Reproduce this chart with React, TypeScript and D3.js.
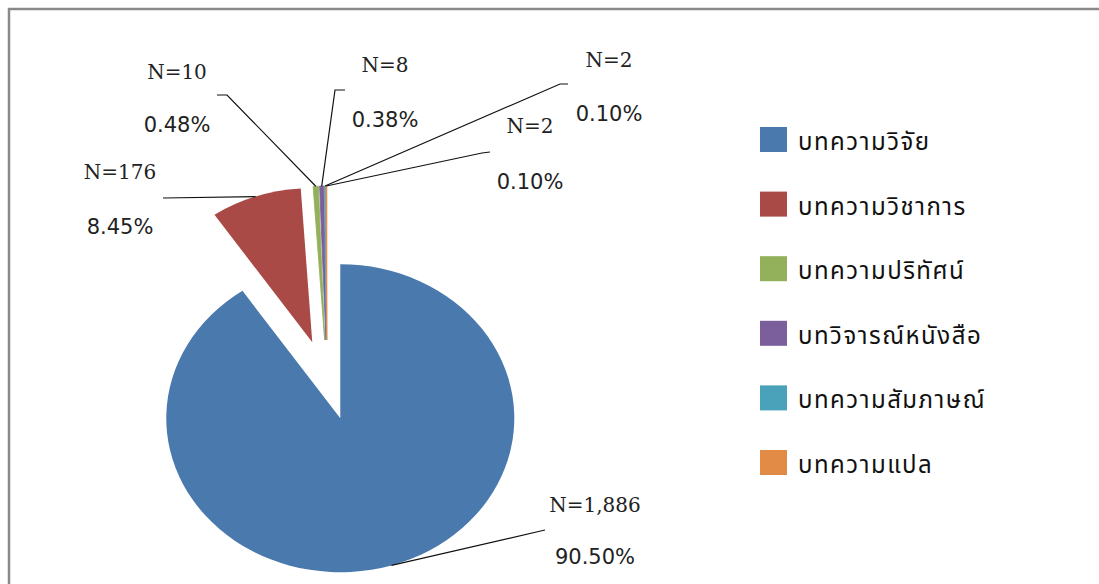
import React, { useEffect, useRef } from "react"
import * as d3 from "d3"

const categories = [
    "บทความวิจัย",
    "บทความวิชาการ",
    "บทความปริทัศน์",
    "บทวิจารณ์หนังสือ",
    "บทความสัมภาษณ์",
    "บทความแปล",
]
const counts = [1886, 176, 10, 8, 2, 2]
const colors = ["#4a79ad", "#aa4a47", "#93b05a", "#7b5f9d", "#4aa2ba", "#e28b47"]

// label placement: [elbow x, elbow y, end x, end y, label x, N label y, pct label y]
const labelLayout = [
    [545, 530, 545, 530, 595, 505, 557],
    [163, 198, 163, 198, 120, 172, 227],
    [227, 95, 217, 95, 177, 72, 125],
    [335, 90, 345, 90, 385, 65, 120],
    [560, 84, 568, 84, 609, 60, 114],
    [482, 153, 490, 152, 530, 126, 182],
]

export default function App() {
    const ref = useRef<SVGSVGElement>(null)

    useEffect(() => {
        const svg = d3.select(ref.current)
        svg.selectAll("*").remove()

        const width = 1099
        const height = 584
        const cx = 327
        const cy = 380
        const radius = 154
        const stretch = 1.13
        const explode = 40
        const total = d3.sum(counts)

        svg.attr("width", width).attr("height", height)

        svg.append("rect")
            .attr("x", 9)
            .attr("y", 9)
            .attr("width", 1300)
            .attr("height", 800)
            .attr("fill", "white")
            .attr("stroke", "#8a8a8a")
            .attr("stroke-width", 2.5)

        const pie = d3.pie<number>().sort(null).value(d => d)
        const arcs = pie(counts)
        const arc = d3.arc<d3.PieArcDatum<number>>().innerRadius(0).outerRadius(radius)

        const pieG = svg.append("g")
            .attr("transform", `translate(${cx},${cy}) scale(${stretch},1)`)

        pieG.selectAll("path")
            .data(arcs)
            .enter()
            .append("path")
            .attr("d", d => arc(d))
            .attr("fill", (d, i) => colors[i])
            .attr("stroke", (d, i) => (i > 1 ? colors[i] : "none"))
            .attr("stroke-width", 0.8)
            .attr("transform", d => {
                const mid = (d.startAngle + d.endAngle) / 2
                return `translate(${Math.sin(mid) * explode},${-Math.cos(mid) * explode})`
            })

        // leader lines start at the outer edge of each exploded slice
        const outer = (d: d3.PieArcDatum<number>) => {
            const mid = (d.startAngle + d.endAngle) / 2
            const r = radius + explode
            return [cx + Math.sin(mid) * r * stretch, cy - Math.cos(mid) * r]
        }

        const line = d3.line()
        svg.append("g")
            .selectAll("path")
            .data(arcs)
            .enter()
            .append("path")
            .attr("d", (d, i) => {
                const l = labelLayout[i]
                return line([outer(d) as [number, number], [l[0], l[1]], [l[2], l[3]]])
            })
            .attr("fill", "none")
            .attr("stroke", "#111")
            .attr("stroke-width", 1.2)

        const fmtN = d3.format(",")
        const fmtP = d3.format(".2%")

        const labels = svg.append("g")
        arcs.forEach((d, i) => {
            const l = labelLayout[i]
            labels.append("text")
                .attr("x", l[4])
                .attr("y", l[5])
                .attr("text-anchor", "middle")
                .attr("dominant-baseline", "central")
                .attr("font-family", "DejaVu Serif")
                .attr("font-size", 20)
                .attr("fill", "#222")
                .text("N=" + fmtN(counts[i]))
            labels.append("text")
                .attr("x", l[4])
                .attr("y", l[6])
                .attr("text-anchor", "middle")
                .attr("dominant-baseline", "central")
                .attr("font-family", "DejaVu Sans")
                .attr("font-size", 21)
                .attr("fill", "#222")
                .text(fmtP(counts[i] / total))
        })

        const legendY = d3.scalePoint<string>()
            .domain(categories)
            .range([140, 463])

        const legend = svg.append("g")
        legend.selectAll("rect")
            .data(categories)
            .enter()
            .append("rect")
            .attr("x", 760)
            .attr("y", d => (legendY(d) as number) - 13)
            .attr("width", 27)
            .attr("height", 25)
            .attr("fill", (d, i) => colors[i])
        legend.selectAll("text")
            .data(categories)
            .enter()
            .append("text")
            .attr("x", 798)
            .attr("y", d => (legendY(d) as number) + 3)
            .attr("dominant-baseline", "central")
            .attr("font-family", "Tahoma, 'Noto Sans Thai', 'Noto Sans', sans-serif")
            .attr("font-size", 24)
            .attr("letter-spacing", 1.5)
            .attr("fill", "#111")
            .text(d => d)
    }, [])

    return (
        <svg
            ref={ref}
            style={{ position: "absolute", left: 0, top: 0, display: "block" }}
        />
    )
}
